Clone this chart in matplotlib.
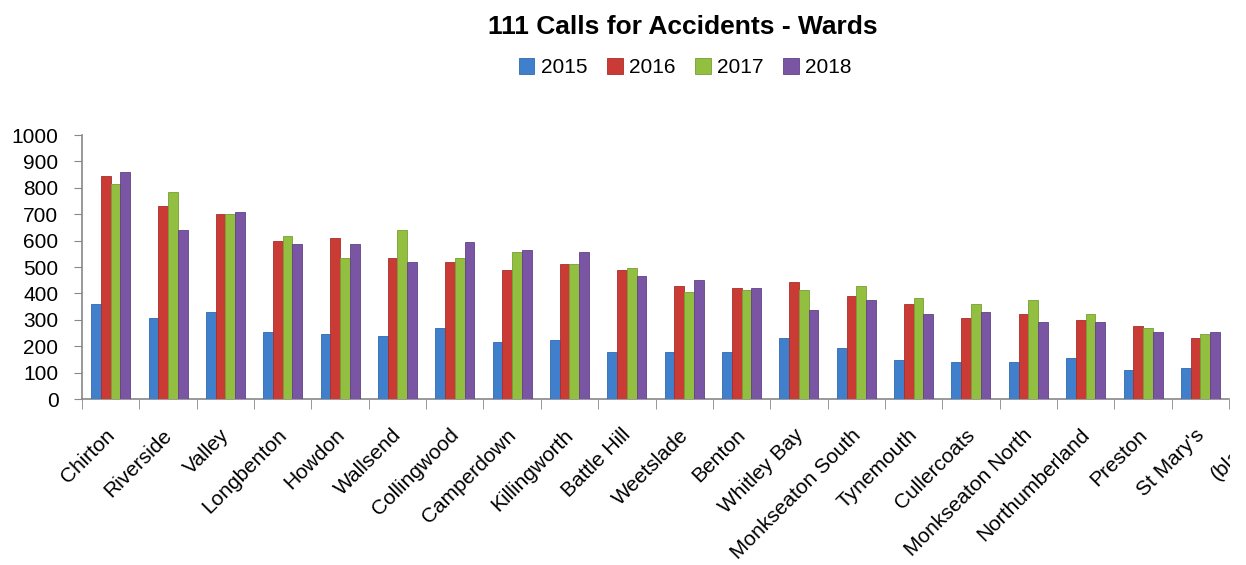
import numpy as np
from matplotlib import pyplot as plt
from matplotlib.ticker import FixedLocator
from matplotlib.transforms import ScaledTranslation, Bbox, TransformedBbox

plt.rcParams['font.family'] = ['Liberation Sans', 'DejaVu Sans']

wards = ['Chirton', 'Riverside', 'Valley', 'Longbenton', 'Howdon', 'Wallsend',
         'Collingwood', 'Camperdown', 'Killingworth', 'Battle Hill', 'Weetslade',
         'Benton', 'Whitley Bay', 'Monkseaton South', 'Tynemouth', 'Cullercoats',
         'Monkseaton North', 'Northumberland', 'Preston', "St Mary's"]
cut_label = '(blank)'

calls_2015 = [360, 305, 330, 253, 246, 238, 269, 216, 223, 178, 178, 178, 231, 193, 148, 140, 140, 155, 110, 117]
calls_2016 = [845, 730, 700, 600, 609, 533, 518, 488, 511, 488, 427, 420, 443, 390, 359, 306, 322, 299, 276, 231]
calls_2017 = [815, 783, 700, 617, 533, 639, 533, 556, 511, 496, 405, 412, 412, 427, 382, 359, 375, 322, 269, 246]
calls_2018 = [860, 639, 707, 586, 586, 518, 594, 564, 556, 465, 450, 420, 337, 375, 322, 329, 291, 291, 253, 253]

years = ['2015', '2016', '2017', '2018']
colors = ['#3F7FCB', '#CB3B36', '#93BF41', '#7A55A3']
edges = ['#2F6AAE', '#A82E2A', '#779F33', '#614187']

fig = plt.figure(figsize=(12.46, 5.65), dpi=100)
ax = fig.add_axes([0.0658, 0.2938, 0.9206, 0.4672])

x = np.arange(len(wards))
width = 0.17
series = [calls_2015, calls_2016, calls_2017, calls_2018]
for i in range(len(series)):
    ax.bar(x + (i - 1.5) * width, series[i], width, color=colors[i],
           edgecolor=edges[i], linewidth=0.6, label=years[i], zorder=3)

ax.set_xlim(-0.5, len(wards) - 0.5)
ax.set_ylim(0, 1000)
ax.set_yticks(range(0, 1001, 100))
ax.tick_params(axis='y', labelsize=15, length=6, color='#888888', pad=11)

ax.set_xticks(x)
ax.set_xticklabels(wards, rotation=45, ha='right', rotation_mode='anchor', fontsize=15)
ax.tick_params(axis='x', which='major', length=0, pad=19)
ax.xaxis.set_minor_locator(FixedLocator(np.arange(-0.5, len(wards), 1.0)))
ax.tick_params(axis='x', which='minor', length=7, color='#888888')

# nudge the rotated labels a little to the left
shift = ScaledTranslation(-4 / 72, 0, fig.dpi_scale_trans)
for lbl in ax.get_xticklabels():
    lbl.set_transform(lbl.get_transform() + shift)

# label of the next category, cut off where the original image was cropped
t = ax.text(len(wards), -100, cut_label, rotation=45, ha='right', va='top',
            rotation_mode='anchor', fontsize=15, transform=ax.transData + shift)
t.set_clip_box(TransformedBbox(Bbox([[0, 0], [1230 / 1246, 1]]), fig.transFigure))
t.set_clip_on(True)

for side in ['top', 'right']:
    ax.spines[side].set_visible(False)
for side in ['left', 'bottom']:
    ax.spines[side].set_color('#888888')
    ax.spines[side].set_linewidth(1.2)

fig.suptitle('111 Calls for Accidents - Wards', x=0.548, y=0.973, fontsize=19, fontweight='bold')
fig.legend(loc='upper center', bbox_to_anchor=(0.55, 0.93), ncol=4, frameon=False,
           fontsize=15, handlelength=0.75, handleheight=0.75, handletextpad=0.3,
           columnspacing=0.95)

plt.savefig('out.png', dpi=100)
